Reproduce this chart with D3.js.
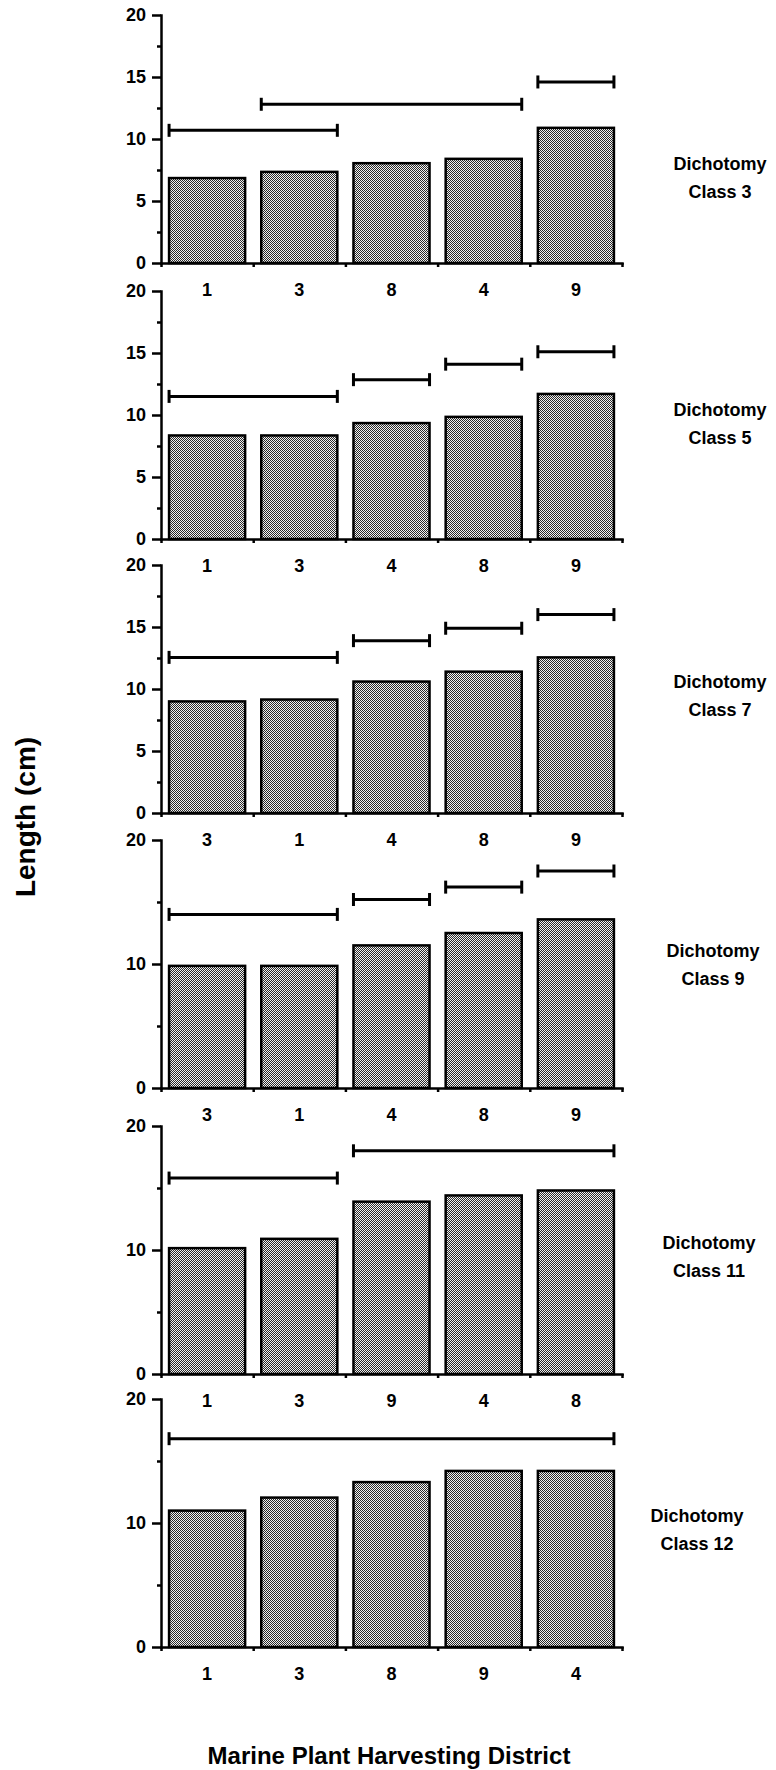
<!DOCTYPE html>
<html>
<head>
<meta charset="utf-8">
<script src="https://cdn.jsdelivr.net/npm/d3@7"></script>
<style>
  body { margin: 0; background: #fff; }
  text { font-family: "Liberation Sans", Arial, sans-serif; font-weight: bold; fill: #000; }
</style>
</head>
<body>
<div id="chart"></div>
<script>
// one panel per dichotomy class
var dichotomyClass = [3, 5, 7, 9, 11, 12];

// district order along the x axis of each panel
var districts = [
  ["1", "3", "8", "4", "9"],
  ["1", "3", "4", "8", "9"],
  ["3", "1", "4", "8", "9"],
  ["3", "1", "4", "8", "9"],
  ["1", "3", "9", "4", "8"],
  ["1", "3", "8", "9", "4"]
];

// mean length (cm) per district
var meanLength = [
  [6.85, 7.35, 8.05, 8.4, 10.9],
  [8.35, 8.35, 9.35, 9.85, 11.7],
  [9.0, 9.15, 10.6, 11.4, 12.55],
  [9.85, 9.85, 11.5, 12.5, 13.6],
  [10.15, 10.9, 13.9, 14.4, 14.8],
  [11.0, 12.05, 13.3, 14.2, 14.2]
];

// groups not significantly different: [first bar, last bar, drawn at length]
var sameGroups = [
  [[0, 1, 10.7], [1, 3, 12.8], [4, 4, 14.6]],
  [[0, 1, 11.5], [2, 2, 12.85], [3, 3, 14.1], [4, 4, 15.1]],
  [[0, 1, 12.55], [2, 2, 13.9], [3, 3, 14.9], [4, 4, 16.0]],
  [[0, 1, 14.0], [2, 2, 15.2], [3, 3, 16.2], [4, 4, 17.5]],
  [[0, 1, 15.8], [2, 4, 18.0]],
  [[0, 4, 16.8]]
];

var majorTicks = [
  [0, 5, 10, 15, 20], [0, 5, 10, 15, 20], [0, 5, 10, 15, 20],
  [0, 10, 20], [0, 10, 20], [0, 10, 20]
];
var minorTicks = [
  [2.5, 7.5, 12.5, 17.5], [2.5, 7.5, 12.5, 17.5], [2.5, 7.5, 12.5, 17.5],
  [5, 15], [5, 15], [5, 15]
];

// layout
var width = 776, height = 1770;
var left = 161, right = 622, panelH = 248;
var panelTop = [15, 291, 565, 840, 1126, 1399];
var labelX = [720, 720, 720, 713, 709, 697];
var labelY = [163, 409, 681, 950, 1242, 1515];

var svg = d3.select("#chart")
  .append("svg")
  .attr("width", width)
  .attr("height", height);

svg.append("rect").attr("width", width).attr("height", height).attr("fill", "#fff");

// halftone fill for bars
var pat = svg.append("defs").append("pattern")
  .attr("id", "dots")
  .attr("width", 2)
  .attr("height", 2)
  .attr("patternUnits", "userSpaceOnUse");
pat.append("rect").attr("width", 2).attr("height", 2).attr("fill", "#2a2a2a");
pat.append("rect").attr("width", 1).attr("height", 1).attr("fill", "#f2f2f2");
pat.append("rect").attr("x", 1).attr("y", 1).attr("width", 1).attr("height", 1).attr("fill", "#f2f2f2");

dichotomyClass.forEach(function (cls, i) {
  var g = svg.append("g").attr("transform", "translate(0," + panelTop[i] + ")");

  var x = d3.scaleBand()
    .domain(districts[i])
    .range([left, right])
    .paddingInner(0.175)
    .paddingOuter(0.0875);

  // band edges for the x tick marks
  var xEdge = d3.scaleLinear().domain([0, districts[i].length]).range([left, right]);

  var y = d3.scaleLinear().domain([0, 20]).range([panelH, 0]);

  var data = districts[i].map(function (d, j) { return { district: d, value: meanLength[i][j] }; });

  // bars
  g.selectAll("rect.bar")
    .data(data)
    .enter().append("rect")
    .attr("class", "bar")
    .attr("x", d => x(d.district))
    .attr("y", d => y(d.value))
    .attr("width", x.bandwidth())
    .attr("height", d => y(0) - y(d.value))
    .attr("fill", "url(#dots)")
    .attr("stroke", "#000")
    .attr("stroke-width", 2.5);

  // minor y ticks
  g.append("g")
    .attr("transform", "translate(" + left + ",0)")
    .call(d3.axisLeft(y).tickValues(minorTicks[i]).tickSize(4).tickFormat(""))
    .call(a => a.select(".domain").remove())
    .selectAll("line").attr("stroke-width", 2.5);

  // y axis
  var yAxis = g.append("g")
    .attr("transform", "translate(" + left + ",0)")
    .call(d3.axisLeft(y).tickValues(majorTicks[i]).tickSize(9).tickSizeOuter(0).tickPadding(6));
  yAxis.select(".domain").attr("stroke-width", 2.5).attr("stroke-linecap", "square");
  yAxis.selectAll("line").attr("stroke-width", 2.5);
  yAxis.selectAll("text").style("font-size", "18px").attr("font-family", null);

  // x axis line with ticks between bands
  var xAxis = g.append("g")
    .attr("transform", "translate(0," + panelH + ")")
    .call(d3.axisBottom(xEdge).ticks(districts[i].length).tickSize(4).tickSizeOuter(0).tickFormat(""));
  xAxis.select(".domain").attr("stroke-width", 2.5).attr("stroke-linecap", "square");
  xAxis.selectAll("line").attr("stroke-width", 2.5);

  // district labels
  g.append("g")
    .attr("transform", "translate(0," + panelH + ")")
    .call(d3.axisBottom(x).tickSize(0).tickPadding(20))
    .call(a => a.select(".domain").remove())
    .selectAll("text").style("font-size", "18px").attr("font-family", null);

  // lines joining districts that do not differ
  var grp = g.selectAll("g.same")
    .data(sameGroups[i])
    .enter().append("g")
    .attr("class", "same");
  var x0 = d => x(districts[i][d[0]]);
  var x1 = d => x(districts[i][d[1]]) + x.bandwidth();
  grp.append("line")
    .attr("x1", x0).attr("x2", x1)
    .attr("y1", d => y(d[2])).attr("y2", d => y(d[2]))
    .attr("stroke", "#000").attr("stroke-width", 3);
  grp.append("line")
    .attr("x1", x0).attr("x2", x0)
    .attr("y1", d => y(d[2]) - 6.5).attr("y2", d => y(d[2]) + 6.5)
    .attr("stroke", "#000").attr("stroke-width", 3);
  grp.append("line")
    .attr("x1", x1).attr("x2", x1)
    .attr("y1", d => y(d[2]) - 6.5).attr("y2", d => y(d[2]) + 6.5)
    .attr("stroke", "#000").attr("stroke-width", 3);

  // class label on the right
  var lab = svg.append("text")
    .attr("x", labelX[i])
    .attr("y", labelY[i] + 6.5)
    .attr("text-anchor", "middle")
    .style("font-size", "18px");
  lab.append("tspan").attr("x", labelX[i]).text("Dichotomy");
  lab.append("tspan").attr("x", labelX[i]).attr("dy", 28).text("Class " + cls);
});

// axis titles
svg.append("text")
  .attr("transform", "translate(35,817) rotate(-90)")
  .attr("text-anchor", "middle")
  .style("font-size", "28px")
  .text("Length (cm)");

svg.append("text")
  .attr("x", 389)
  .attr("y", 1764)
  .attr("text-anchor", "middle")
  .style("font-size", "24px")
  .text("Marine Plant Harvesting District");
</script>
</body>
</html>
